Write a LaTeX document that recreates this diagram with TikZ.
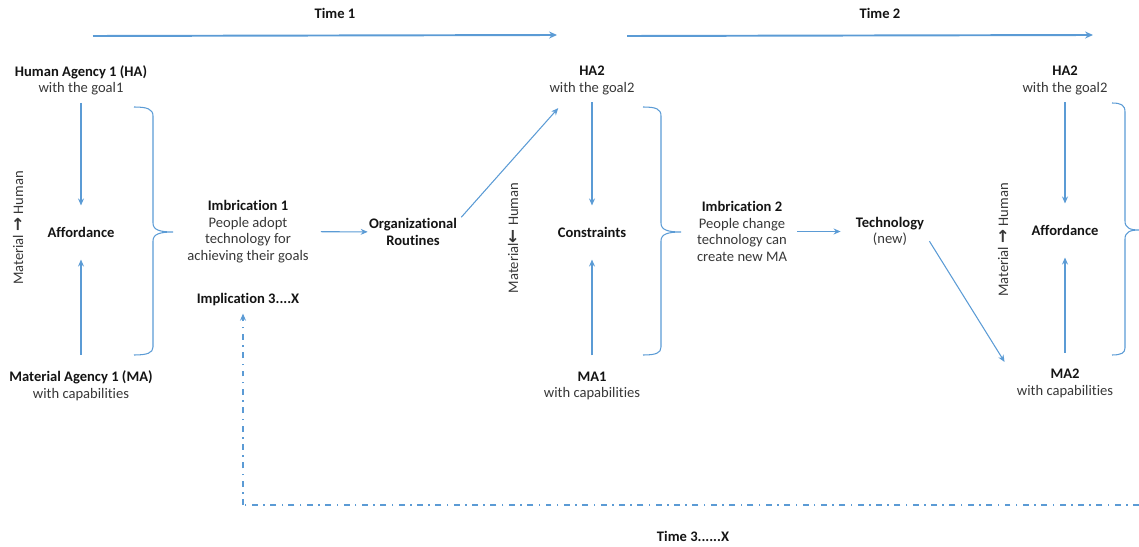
\documentclass[tikz,border=0pt]{standalone}
\usepackage{fontspec}
\setmainfont{Carlito}[Ligatures=NoCommon]
\newfontfamily\arrowfont{DejaVu Sans}
\usetikzlibrary{arrows.meta}
\definecolor{flow}{RGB}{91,155,213}
\definecolor{ink}{RGB}{20,20,20}
\definecolor{softink}{RGB}{55,55,55}
\newcommand\hdr[1]{{\color{ink}\bfseries #1}}
\newcommand\rarr{{\arrowfont\bfseries\fontsize{9.5}{9.5}\selectfont\char"2192}}
\newcommand\larr{{\arrowfont\bfseries\fontsize{9.5}{9.5}\selectfont\char"2190}}

\begin{document}
\begin{tikzpicture}[x=0.02cm,y=-0.02cm,
  every node/.style={font=\fontsize{8.3}{9.4}\selectfont, text=softink, align=center, inner sep=0pt},
  arr/.style={draw=flow, line width=0.6pt, -{Stealth[length=4pt,width=3.4pt]}},
  timearr/.style={draw=flow, line width=1.1pt, -{Stealth[length=4.5pt,width=4pt]}},
  down/.style={arr, shorten <=0.14cm, shorten >=0.42cm},
  up/.style={arr, shorten <=0.32cm, shorten >=0.44cm},
  bracepath/.style={draw=flow, line width=0.6pt},
  dashdot/.style={draw=flow, line width=0.7pt, dash pattern=on 3.4pt off 3.1pt on 0.85pt off 3.1pt}
]
\useasboundingbox (0,0) rectangle (1139,547);

% time axis
\node (t1) at (335,13) {\hdr{Time 1}};
\node (t2) at (880,13) {\hdr{Time 2}};
\node (t3) at (693,536) {\hdr{Time 3......X}};
\coordinate (t1a) at (93,36);
\coordinate (t1b) at (557,35);
\coordinate (t2a) at (627,36);
\coordinate (t2b) at (1093,35);
\draw[timearr] (t1a) -- (t1b);
\draw[timearr] (t2a) -- (t2b);

% first imbrication
\node (ha1) at (81,80.5) {\hdr{Human Agency 1 (HA)}\\with the goal1};
\node (aff1) at (81,232) {\hdr{Affordance}};
\node (ma1) at (81,386) {\hdr{Material Agency 1 (MA)}\\with capabilities};
\node[rotate=90] (mh1) at (18,228) {Material \rarr\ Human};
\draw[down] (ha1) -- (aff1);
\draw[up] (ma1) -- (aff1);
\draw[bracepath] (134,107) .. controls (147,107) and (153,109) .. (153,116)
  -- (153,223) .. controls (153,230) and (160,232) .. (173,232)
  .. controls (160,232) and (153,234) .. (153,241)
  -- (153,347) .. controls (153,353) and (147,355) .. (134,355);
\node (imb1) at (248,231.5) {\hdr{Imbrication 1}\\People adopt\\technology for\\achieving their goals};
\node (impl) at (248,300) {\hdr{Implication 3....X}};
\node (org) at (413,232) {\hdr{Organizational}\\\hdr{Routines}};
\draw[arr, shorten <=0.24cm, shorten >=0.02cm] (imb1) -- (org);

% second imbrication
\node (ha2) at (592,80.5) {\hdr{HA2}\\with the goal2};
\node (con) at (592,232) {\hdr{Constraints}};
\node (ma1b) at (592,386) {\hdr{MA1}\\with capabilities};
\node[rotate=90] (mh2) at (513,238) {Material\larr\ Human};
\draw[arr] ([shift={(4,-1)}]org.north east) -- ([shift={(9,13)}]ha2.south west);
\draw[down] (ha2) -- (con);
\draw[up] (ma1b) -- (con);
\draw[bracepath] (643,107) .. controls (656,107) and (661,109) .. (661,116)
  -- (661,223) .. controls (661,230) and (668,232) .. (681,232)
  .. controls (668,232) and (661,234) .. (661,241)
  -- (661,347) .. controls (661,353) and (656,355) .. (643,355);
\node (imb2) at (742,231.5) {\hdr{Imbrication 2}\\People change\\technology can\\create new MA};
\node (tech) at (890,231.5) {\hdr{Technology}\\(new)};
\draw[arr, shorten <=0.2cm, shorten >=0.3cm] (imb2) -- (tech);

% third stage
\node (ha3) at (1065,80.5) {\hdr{HA2}\\with the goal2};
\node (aff3) at (1065,230) {\hdr{Affordance}};
\node (ma2) at (1065,383.5) {\hdr{MA2}\\with capabilities};
\node[rotate=90] (mh3) at (1003,240) {Material \rarr\ Human};
\draw[arr] ([shift={(5,-5)}]tech.south east) -- ([shift={(-12,-7)}]ma2.north west);
\draw[down] (ha3) -- (aff3);
\draw[up] (ma2) -- (aff3);
\draw[bracepath] (1112,103) .. controls (1121,103) and (1125,105) .. (1125,112)
  -- (1125,221) .. controls (1125,228) and (1130,230) .. (1139,230)
  .. controls (1130,230) and (1125,232) .. (1125,239)
  -- (1125,348) .. controls (1125,353) and (1121,355) .. (1112,355);

% feedback loop to later implications
\coordinate (fbend) at (1139,505);
\coordinate (fbcorner) at (243,505);
\draw[dashdot] (fbend) -- (fbcorner);
\draw[dashdot, -{Stealth[length=4pt,width=3.4pt]}, shorten >=0.14cm] (fbcorner) -- (fbcorner |- impl.south);
\end{tikzpicture}
\end{document}
